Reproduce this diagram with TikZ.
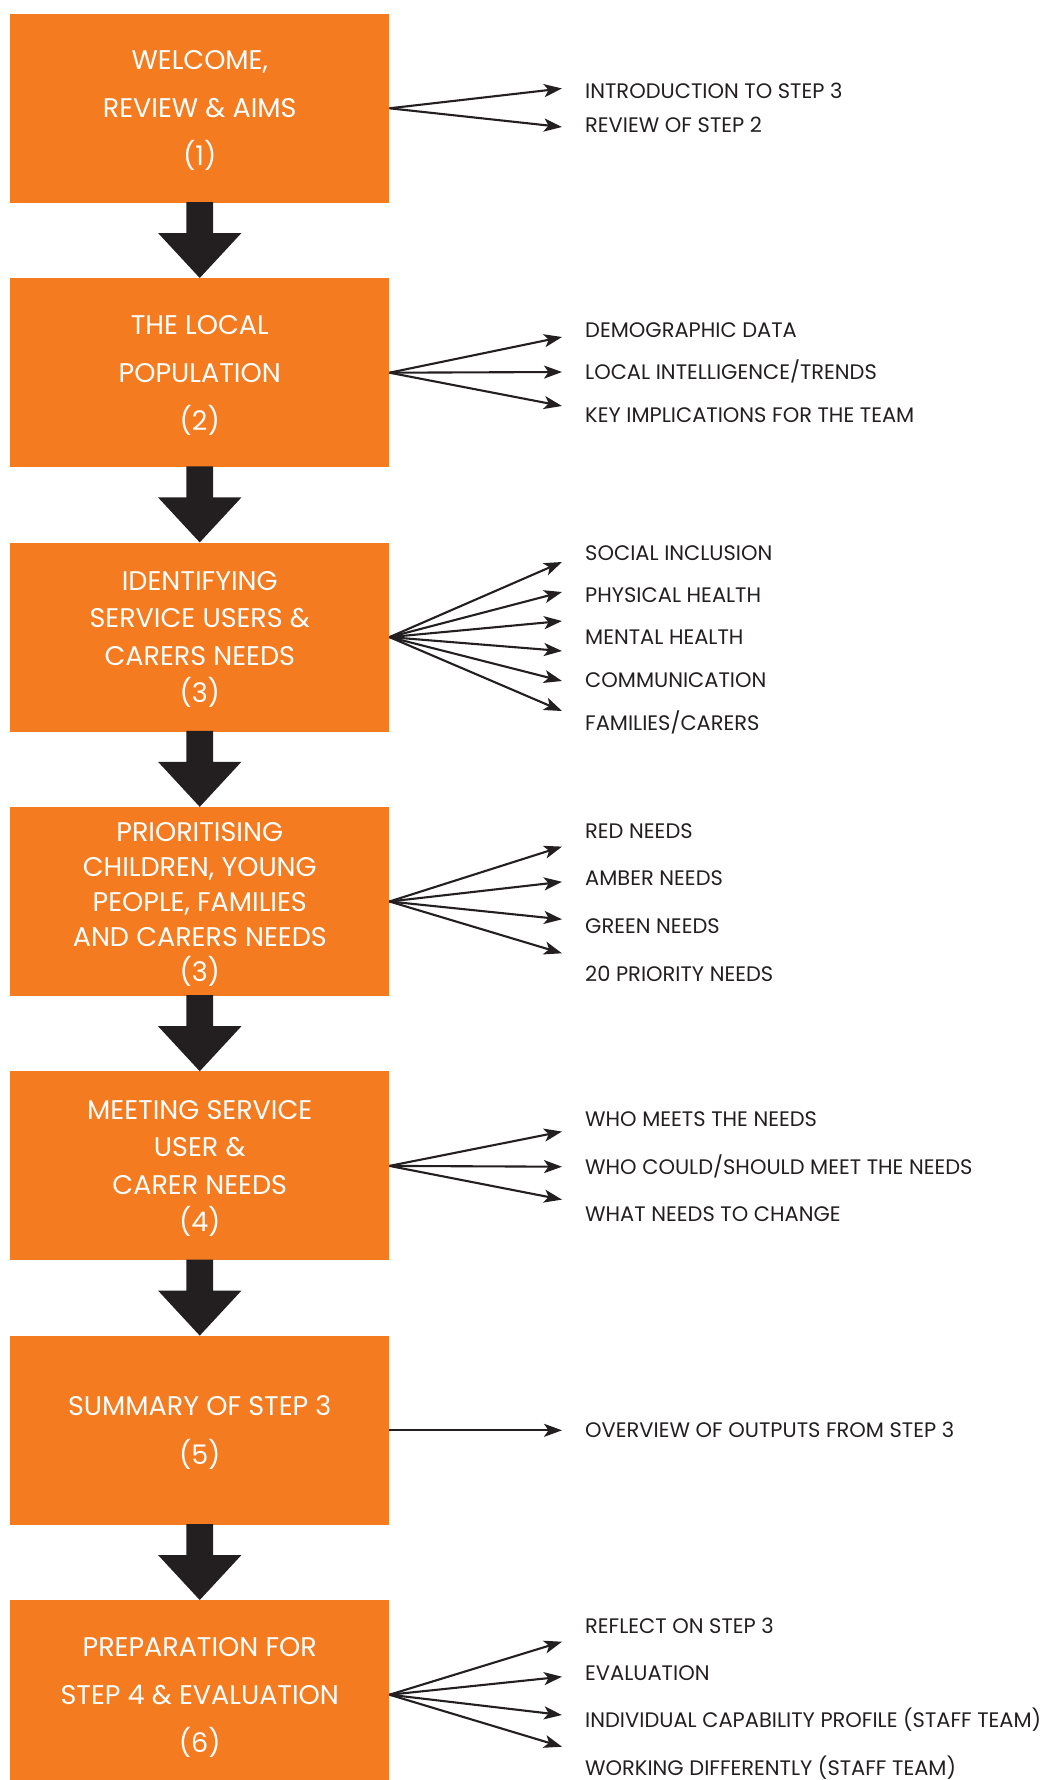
\documentclass[tikz,border=0pt]{standalone}
\usepackage{fontspec}
\setmainfont{Poppins}
\usetikzlibrary{arrows.meta,calc}
\definecolor{orng}{RGB}{244,123,32}
\definecolor{ink}{RGB}{35,31,32}
\begin{document}
\begin{tikzpicture}[x=1pt,y=-1pt,
 stage/.style={fill=orng, minimum width=379pt, minimum height=189pt, inner sep=0pt, text depth=0pt, text=white, align=center, font=\fontsize{27}{48}\selectfont},
 lbl/.style={anchor=base west, text=ink, inner sep=0pt, font=\fontsize{21}{25}\selectfont},
 fan/.style={draw=ink, line width=2.1pt, -{Stealth[length=18pt,width=13pt,inset=4.5pt]}}]
\useasboundingbox (0,0) rectangle (1043,1780);
\node[stage] (s1) at (199.75,108.3) {WELCOME,\\REVIEW \& AIMS\\(1)};
\node[stage] (s2) at (199.75,372.7) {THE LOCAL\\POPULATION\\(2)};
\node[stage, font=\fontsize{27}{37.5}\selectfont] (s3) at (199.75,637.1) {IDENTIFYING\\SERVICE USERS \&\\CARERS NEEDS\\(3)};
\node[stage, font=\fontsize{27}{35}\selectfont] (s4) at (199.75,901.5) {PRIORITISING\\CHILDREN, YOUNG\\PEOPLE, FAMILIES\\AND CARERS NEEDS\\(3)};
\node[stage, font=\fontsize{27}{37.5}\selectfont] (s5) at (199.75,1165.9) {MEETING SERVICE\\USER \&\\CARER NEEDS\\(4)};
\node[stage, font=\fontsize{27}{49}\selectfont] (s6) at (199.75,1430.3) {SUMMARY OF STEP 3\\(5)};
\node[stage] (s7) at (199.75,1694.7) {PREPARATION FOR\\STEP 4 \& EVALUATION\\(6)};
% down arrows
\foreach \a/\b in {s1/s2,s2/s3,s3/s4,s4/s5,s5/s6,s6/s7}{
  \fill[ink] ($(\a.south)+(-13.3,-1)$) -- ($(\a.south)+(13.3,-1)$) -- ($(\a.south)+(13.3,30)$)
    -- ($(\a.south)+(41.7,30)$) -- (\b.north) -- ($(\a.south)+(-41.7,30)$) -- ($(\a.south)+(-13.3,30)$) -- cycle;
}
% fans
\foreach \y [count=\i] in {88.5,127}{\coordinate (t1\i) at (562,\y); \draw[fan] (s1.east) -- (t1\i);}
\foreach \y [count=\i] in {337,372,406}{\coordinate (t2\i) at (562,\y); \draw[fan] (s2.east) -- (t2\i);}
\foreach \y [count=\i] in {562,592,621,651,681,711}{\coordinate (t3\i) at (562,\y); \draw[fan] (s3.east) -- (t3\i);}
\foreach \y [count=\i] in {846.6,881.8,919.3,953.3}{\coordinate (t4\i) at (562,\y); \draw[fan] (s4.east) -- (t4\i);}
\foreach \y [count=\i] in {1131.5,1166.7,1199.6}{\coordinate (t5\i) at (562,\y); \draw[fan] (s5.east) -- (t5\i);}
\coordinate (t61) at (562,1430.3); \draw[fan] (s6.east) -- (t61);
\foreach \y [count=\i] in {1641.7,1676.7,1715,1746.7}{\coordinate (t7\i) at (562,\y); \draw[fan] (s7.east) -- (t7\i);}
% labels
\foreach \y/\t [count=\i] in {90.8/INTRODUCTION TO STEP 3, 124.8/REVIEW OF STEP 2,
  330/DEMOGRAPHIC DATA, 372/LOCAL INTELLIGENCE{/}TRENDS, 415/KEY IMPLICATIONS FOR THE TEAM,
  553/SOCIAL INCLUSION, 595/PHYSICAL HEALTH, 637/MENTAL HEALTH, 680/COMMUNICATION, 723/FAMILIES{/}CARERS,
  830.7/RED NEEDS, 878.4/AMBER NEEDS, 926.1/GREEN NEEDS, 973.7/20 PRIORITY NEEDS,
  1119/WHO MEETS THE NEEDS, 1166.7/WHO COULD{/}SHOULD MEET THE NEEDS, 1214/WHAT NEEDS TO CHANGE,
  1430/OVERVIEW OF OUTPUTS FROM STEP 3,
  1625.7/REFLECT ON STEP 3, 1673/EVALUATION, 1720/INDIVIDUAL CAPABILITY PROFILE (STAFF TEAM), 1768/WORKING DIFFERENTLY (STAFF TEAM)}{
  \node[lbl] (l\i) at (585,\y+7.5) {\t};
}
\end{tikzpicture}
\end{document}
